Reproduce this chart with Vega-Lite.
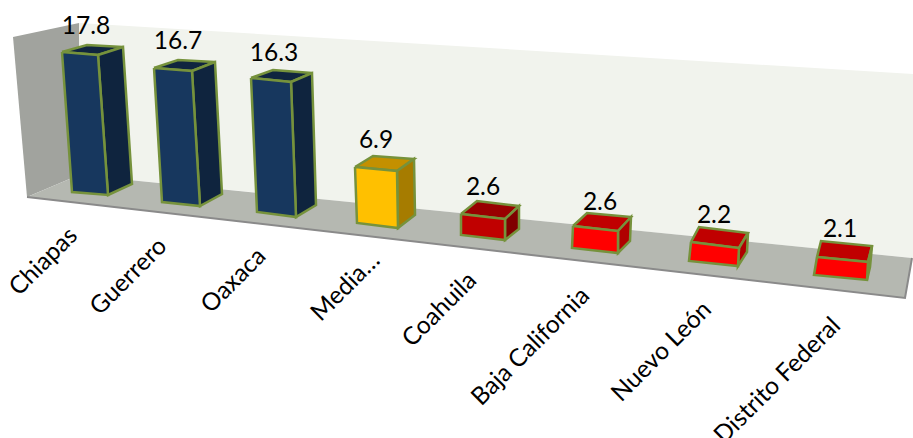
{"$schema":"https://vega.github.io/schema/vega-lite/v6.json","width":913,"height":438,"padding":0,"autosize":{"type":"none"},"background":"white","view":{"stroke":null},
"datasets":{
"scene":[
{"p":"wall","f":"wall","v":0,"x":79,"y":23},{"p":"wall","f":"wall","v":1,"x":913,"y":74},{"p":"wall","f":"wall","v":2,"x":913,"y":258},{"p":"wall","f":"wall","v":3,"x":79,"y":175},
{"p":"side","f":"side","v":0,"x":13,"y":37},{"p":"side","f":"side","v":1,"x":79,"y":23},{"p":"side","f":"side","v":2,"x":79,"y":175},{"p":"side","f":"side","v":3,"x":27,"y":197},
{"p":"floor","f":"floor","v":0,"x":27,"y":197},{"p":"floor","f":"floor","v":1,"x":79,"y":175},{"p":"floor","f":"floor","v":2,"x":912,"y":258},{"p":"floor","f":"floor","v":3,"x":905,"y":298}
],
"edge":[{"v":0,"x":27,"y":197},{"v":1,"x":905,"y":298},{"v":2,"x":912,"y":258}],
"bars":[
{"p":"a1","f":"navyTop","v":0,"x":62,"y":52},{"p":"a1","f":"navyTop","v":1,"x":87,"y":45},{"p":"a1","f":"navyTop","v":2,"x":123,"y":47},{"p":"a1","f":"navyTop","v":3,"x":98,"y":55},{"p":"a1","f":"navyTop","v":4,"x":62,"y":52},
{"p":"a2","f":"navySide","v":0,"x":98,"y":55},{"p":"a2","f":"navySide","v":1,"x":123,"y":47},{"p":"a2","f":"navySide","v":2,"x":132,"y":184},{"p":"a2","f":"navySide","v":3,"x":108,"y":195},{"p":"a2","f":"navySide","v":4,"x":98,"y":55},
{"p":"a3","f":"navyFront","v":0,"x":62,"y":52},{"p":"a3","f":"navyFront","v":1,"x":98,"y":55},{"p":"a3","f":"navyFront","v":2,"x":108,"y":195},{"p":"a3","f":"navyFront","v":3,"x":72,"y":192},{"p":"a3","f":"navyFront","v":4,"x":62,"y":52},

{"p":"b1","f":"navyTop","v":0,"x":154,"y":68},{"p":"b1","f":"navyTop","v":1,"x":178,"y":60},{"p":"b1","f":"navyTop","v":2,"x":215,"y":62},{"p":"b1","f":"navyTop","v":3,"x":192,"y":71},{"p":"b1","f":"navyTop","v":4,"x":154,"y":68},
{"p":"b2","f":"navySide","v":0,"x":192,"y":71},{"p":"b2","f":"navySide","v":1,"x":215,"y":62},{"p":"b2","f":"navySide","v":2,"x":222,"y":194},{"p":"b2","f":"navySide","v":3,"x":200,"y":206},{"p":"b2","f":"navySide","v":4,"x":192,"y":71},
{"p":"b3","f":"navyFront","v":0,"x":154,"y":68},{"p":"b3","f":"navyFront","v":1,"x":192,"y":71},{"p":"b3","f":"navyFront","v":2,"x":200,"y":206},{"p":"b3","f":"navyFront","v":3,"x":162,"y":202},{"p":"b3","f":"navyFront","v":4,"x":154,"y":68},

{"p":"c1","f":"navyTop","v":0,"x":251,"y":78},{"p":"c1","f":"navyTop","v":1,"x":273,"y":70},{"p":"c1","f":"navyTop","v":2,"x":312,"y":73},{"p":"c1","f":"navyTop","v":3,"x":291,"y":82},{"p":"c1","f":"navyTop","v":4,"x":251,"y":78},
{"p":"c2","f":"navySide","v":0,"x":291,"y":82},{"p":"c2","f":"navySide","v":1,"x":312,"y":73},{"p":"c2","f":"navySide","v":2,"x":316,"y":205},{"p":"c2","f":"navySide","v":3,"x":296,"y":217},{"p":"c2","f":"navySide","v":4,"x":291,"y":82},
{"p":"c3","f":"navyFront","v":0,"x":251,"y":78},{"p":"c3","f":"navyFront","v":1,"x":291,"y":82},{"p":"c3","f":"navyFront","v":2,"x":296,"y":217},{"p":"c3","f":"navyFront","v":3,"x":257,"y":212},{"p":"c3","f":"navyFront","v":4,"x":251,"y":78},

{"p":"d1","f":"goldTop","v":0,"x":355,"y":167},{"p":"d1","f":"goldTop","v":1,"x":373,"y":156},{"p":"d1","f":"goldTop","v":2,"x":414,"y":159},{"p":"d1","f":"goldTop","v":3,"x":397,"y":171},{"p":"d1","f":"goldTop","v":4,"x":355,"y":167},
{"p":"d2","f":"goldSide","v":0,"x":397,"y":171},{"p":"d2","f":"goldSide","v":1,"x":414,"y":159},{"p":"d2","f":"goldSide","v":2,"x":415,"y":215},{"p":"d2","f":"goldSide","v":3,"x":398,"y":228},{"p":"d2","f":"goldSide","v":4,"x":397,"y":171},
{"p":"d3","f":"goldFront","v":0,"x":355,"y":167},{"p":"d3","f":"goldFront","v":1,"x":397,"y":171},{"p":"d3","f":"goldFront","v":2,"x":398,"y":228},{"p":"d3","f":"goldFront","v":3,"x":357,"y":223},{"p":"d3","f":"goldFront","v":4,"x":355,"y":167},

{"p":"e1","f":"darkTop","v":0,"x":461,"y":214},{"p":"e1","f":"darkTop","v":1,"x":477,"y":201},{"p":"e1","f":"darkTop","v":2,"x":519,"y":206},{"p":"e1","f":"darkTop","v":3,"x":505,"y":219},{"p":"e1","f":"darkTop","v":4,"x":461,"y":214},
{"p":"e2","f":"darkSide","v":0,"x":505,"y":219},{"p":"e2","f":"darkSide","v":1,"x":519,"y":206},{"p":"e2","f":"darkSide","v":2,"x":519,"y":229},{"p":"e2","f":"darkSide","v":3,"x":505,"y":240},{"p":"e2","f":"darkSide","v":4,"x":505,"y":219},
{"p":"e3","f":"darkFront","v":0,"x":461,"y":214},{"p":"e3","f":"darkFront","v":1,"x":505,"y":219},{"p":"e3","f":"darkFront","v":2,"x":505,"y":240},{"p":"e3","f":"darkFront","v":3,"x":461,"y":235},{"p":"e3","f":"darkFront","v":4,"x":461,"y":214},

{"p":"f1","f":"redTop","v":0,"x":573,"y":226},{"p":"f1","f":"redTop","v":1,"x":587,"y":213},{"p":"f1","f":"redTop","v":2,"x":631,"y":217},{"p":"f1","f":"redTop","v":3,"x":618,"y":231},{"p":"f1","f":"redTop","v":4,"x":573,"y":226},
{"p":"f2","f":"redSide","v":0,"x":618,"y":231},{"p":"f2","f":"redSide","v":1,"x":631,"y":217},{"p":"f2","f":"redSide","v":2,"x":630,"y":241},{"p":"f2","f":"redSide","v":3,"x":618,"y":253},{"p":"f2","f":"redSide","v":4,"x":618,"y":231},
{"p":"f3","f":"redFront","v":0,"x":573,"y":226},{"p":"f3","f":"redFront","v":1,"x":618,"y":231},{"p":"f3","f":"redFront","v":2,"x":618,"y":253},{"p":"f3","f":"redFront","v":3,"x":572,"y":248},{"p":"f3","f":"redFront","v":4,"x":573,"y":226},

{"p":"g1","f":"redTop","v":0,"x":691,"y":242},{"p":"g1","f":"redTop","v":1,"x":699,"y":227},{"p":"g1","f":"redTop","v":2,"x":748,"y":233},{"p":"g1","f":"redTop","v":3,"x":739,"y":248},{"p":"g1","f":"redTop","v":4,"x":691,"y":242},
{"p":"g2","f":"redSide","v":0,"x":739,"y":248},{"p":"g2","f":"redSide","v":1,"x":748,"y":233},{"p":"g2","f":"redSide","v":2,"x":747,"y":252},{"p":"g2","f":"redSide","v":3,"x":738,"y":266},{"p":"g2","f":"redSide","v":4,"x":739,"y":248},
{"p":"g3","f":"redFront","v":0,"x":691,"y":242},{"p":"g3","f":"redFront","v":1,"x":739,"y":248},{"p":"g3","f":"redFront","v":2,"x":738,"y":266},{"p":"g3","f":"redFront","v":3,"x":689,"y":261},{"p":"g3","f":"redFront","v":4,"x":691,"y":242},

{"p":"h1","f":"redTop","v":0,"x":817,"y":257},{"p":"h1","f":"redTop","v":1,"x":821,"y":241},{"p":"h1","f":"redTop","v":2,"x":872,"y":246},{"p":"h1","f":"redTop","v":3,"x":868,"y":262},{"p":"h1","f":"redTop","v":4,"x":817,"y":257},
{"p":"h2","f":"redSide","v":0,"x":868,"y":262},{"p":"h2","f":"redSide","v":1,"x":872,"y":246},{"p":"h2","f":"redSide","v":2,"x":870,"y":267},{"p":"h2","f":"redSide","v":3,"x":867,"y":280},{"p":"h2","f":"redSide","v":4,"x":868,"y":262},
{"p":"h3","f":"redFront","v":0,"x":817,"y":257},{"p":"h3","f":"redFront","v":1,"x":868,"y":262},{"p":"h3","f":"redFront","v":2,"x":867,"y":280},{"p":"h3","f":"redFront","v":3,"x":814,"y":275},{"p":"h3","f":"redFront","v":4,"x":817,"y":257}
],
"values":[
{"estado":"Chiapas","valor":17.8,"x":86,"y":27,"lx":44,"ly":262},
{"estado":"Guerrero","valor":16.7,"x":178,"y":42,"lx":129,"ly":277},
{"estado":"Oaxaca","valor":16.3,"x":274,"y":54,"lx":234,"ly":281},
{"estado":"Media…","valor":6.9,"x":376,"y":141,"lx":346,"ly":287},
{"estado":"Coahuila","valor":2.6,"x":483,"y":188,"lx":440,"ly":310},
{"estado":"Baja California","valor":2.6,"x":600,"y":203,"lx":531,"ly":347},
{"estado":"Nuevo León","valor":2.2,"x":714,"y":216,"lx":662,"ly":352},
{"estado":"Distrito Federal","valor":2.1,"x":840,"y":230,"lx":778,"ly":381}
]},
"layer":[
{"data":{"name":"scene"},"mark":{"type":"line","strokeWidth":0},"encoding":{
"x":{"field":"x","type":"quantitative","scale":{"domain":[0,913]},"axis":null},
"y":{"field":"y","type":"quantitative","scale":{"domain":[438,0]},"axis":null},
"detail":{"field":"p"},"order":{"field":"v","type":"quantitative"},
"fill":{"field":"f","type":"nominal","legend":null,"scale":{"domain":["wall","side","floor"],"range":["#f1f3ed","#a1a39e","#b5b8b1"]}}}},
{"data":{"name":"edge"},"mark":{"type":"line","stroke":"#8a8a8a","strokeWidth":2},"encoding":{
"x":{"field":"x","type":"quantitative","scale":{"domain":[0,913]},"axis":null},
"y":{"field":"y","type":"quantitative","scale":{"domain":[438,0]},"axis":null},
"order":{"field":"v","type":"quantitative"}}},
{"data":{"name":"bars"},"mark":{"type":"line","stroke":"#76923c","strokeWidth":2.5,"strokeJoin":"miter"},"encoding":{
"x":{"field":"x","type":"quantitative","scale":{"domain":[0,913]},"axis":null},
"y":{"field":"y","type":"quantitative","scale":{"domain":[438,0]},"axis":null},
"detail":{"field":"p"},"order":{"field":"v","type":"quantitative"},
"fill":{"field":"f","type":"nominal","legend":null,"scale":{"domain":["navyFront","navySide","navyTop","goldFront","goldSide","goldTop","darkFront","darkSide","darkTop","redFront","redSide","redTop"],"range":["#17375e","#0f243e","#10253f","#ffc000","#a67c00","#c49000","#c00000","#800000","#990000","#ff0000","#b00000","#c00000"]}}}},
{"data":{"name":"values"},"mark":{"type":"text","font":"Lato","fontSize":24.5,"color":"#000000","align":"center","baseline":"middle"},"encoding":{
"x":{"field":"x","type":"quantitative","scale":{"domain":[0,913]},"axis":null},
"y":{"field":"y","type":"quantitative","scale":{"domain":[438,0]},"axis":null},
"text":{"field":"valor","type":"quantitative","format":".1f"}}},
{"data":{"name":"values"},"mark":{"type":"text","font":"Lato","fontSize":24.5,"color":"#000000","align":"center","baseline":"middle","angle":-45},"encoding":{
"x":{"field":"lx","type":"quantitative","scale":{"domain":[0,913]},"axis":null},
"y":{"field":"ly","type":"quantitative","scale":{"domain":[438,0]},"axis":null},
"text":{"field":"estado","type":"nominal"}}}
],
"resolve":{"scale":{"fill":"independent"}},
"config":{"style":{"cell":{"stroke":null}}}}
